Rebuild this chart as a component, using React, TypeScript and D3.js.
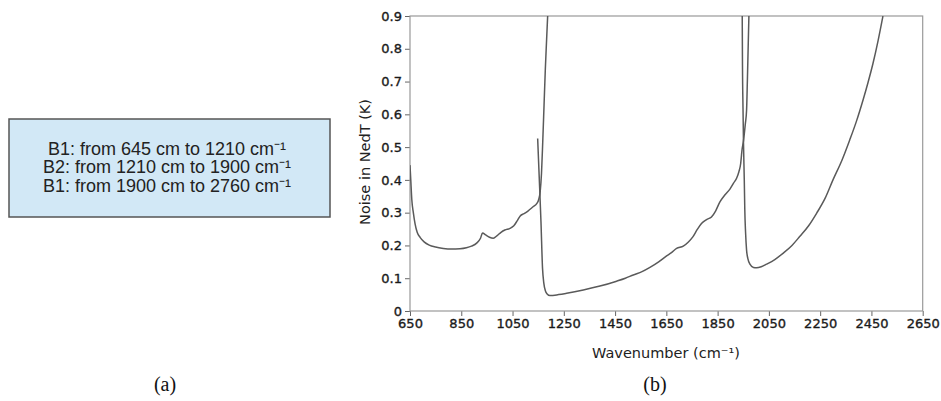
import React, { useEffect, useRef } from "react";
import * as d3 from "d3";

// Noise curves: [wavenumber, NedT noise]
const band1: [number, number][] = [
  [650, 0.445], [653, 0.4], [657, 0.34], [663, 0.3], [670, 0.265], [678, 0.24],
  [690, 0.224], [705, 0.211], [725, 0.201], [750, 0.195], [780, 0.191], [810, 0.189],
  [845, 0.19], [870, 0.193], [890, 0.198], [910, 0.207], [925, 0.222], [933, 0.238],
  [945, 0.232], [960, 0.225], [975, 0.222], [990, 0.23], [1005, 0.24], [1020, 0.247],
  [1040, 0.252], [1055, 0.26], [1068, 0.275], [1080, 0.29], [1095, 0.297], [1110, 0.305],
  [1130, 0.318], [1145, 0.328], [1152, 0.34], [1158, 0.365], [1163, 0.42], [1168, 0.52],
  [1173, 0.63], [1178, 0.74], [1183, 0.83], [1187, 0.9],
];

const band2: [number, number][] = [
  [1148, 0.526], [1154, 0.41], [1161, 0.27], [1167, 0.13], [1172, 0.085], [1178, 0.062],
  [1185, 0.052], [1196, 0.047], [1230, 0.05], [1261, 0.054], [1326, 0.064], [1391, 0.076],
  [1456, 0.091], [1490, 0.1], [1521, 0.11], [1555, 0.12], [1586, 0.133], [1620, 0.15],
  [1651, 0.168], [1670, 0.178], [1690, 0.191], [1716, 0.198], [1735, 0.21], [1754, 0.227],
  [1770, 0.248], [1787, 0.267], [1807, 0.279], [1826, 0.287], [1842, 0.305], [1859, 0.333],
  [1878, 0.354], [1898, 0.372], [1912, 0.39], [1924, 0.405], [1933, 0.425], [1940, 0.45],
  [1945, 0.49], [1951, 0.52], [1958, 0.57], [1963, 0.613], [1966, 0.7], [1968, 0.766],
  [1972, 0.9],
];

const band3: [number, number][] = [
  [1946, 0.9], [1947, 0.75], [1949, 0.62], [1951, 0.51], [1954, 0.4], [1956, 0.31],
  [1959, 0.24], [1963, 0.185], [1968, 0.16], [1976, 0.143], [1990, 0.133], [2002, 0.132],
  [2020, 0.135], [2041, 0.143], [2073, 0.157], [2105, 0.176], [2140, 0.2], [2170, 0.227],
  [2205, 0.26], [2236, 0.298], [2270, 0.345], [2300, 0.4], [2335, 0.46], [2365, 0.521],
  [2392, 0.58], [2417, 0.643], [2437, 0.698], [2456, 0.755], [2476, 0.825], [2495, 0.9],
];

const xTicks = [650, 850, 1050, 1250, 1450, 1650, 1850, 2050, 2250, 2450, 2650];
const yTicks = [0, 0.1, 0.2, 0.3, 0.4, 0.5, 0.6, 0.7, 0.8, 0.9];
const yTickLabels = ["0", "0.1", "0.2", "0.3", "0.4", "0.5", "0.6", "0.7", "0.8", "0.9"];

const boxLines = [
  "B1: from 645 cm to 1210 cm⁻¹",
  "B2: from 1210 cm to 1900 cm⁻¹",
  "B1: from 1900 cm to 2760 cm⁻¹",
];

const App = () => {
  const ref = useRef<SVGSVGElement>(null);

  useEffect(() => {
    const width = 941;
    const height = 401;
    const svg = d3.select(ref.current);
    svg.selectAll("*").remove();
    svg.attr("width", width).attr("height", height);

    svg.append("rect").attr("width", width).attr("height", height).attr("fill", "#fff");

    // (a) text box
    svg
      .append("rect")
      .attr("x", 9)
      .attr("y", 119)
      .attr("width", 321)
      .attr("height", 98)
      .attr("fill", "#d2e8f6")
      .attr("stroke", "#555")
      .attr("stroke-width", 1.5);

    svg
      .append("g")
      .selectAll("text")
      .data(boxLines)
      .join("text")
      .attr("x", 167)
      .attr("y", (d, i) => 155 + i * 18.3)
      .attr("text-anchor", "middle")
      .style("font-family", "'Liberation Sans', Arial, sans-serif")
      .style("font-size", "18px")
      .style("fill", "#222")
      .text((d) => d);

    // (b) chart
    const x = d3.scaleLinear().domain([650, 2650]).range([410, 922.7]);
    const y = d3.scaleLinear().domain([0, 0.9]).range([311, 16]);

    const g = svg.append("g");
    const tickFont = "'DejaVu Sans', sans-serif";

    const xAxis = g
      .append("g")
      .attr("transform", `translate(0, ${y(0)})`)
      .call(d3.axisBottom(x).tickValues(xTicks).tickSize(5).tickPadding(3).tickFormat(d3.format("d")));
    const yAxis = g
      .append("g")
      .attr("transform", `translate(${x(650)}, 0)`)
      .call(
        d3
          .axisLeft(y)
          .tickValues(yTicks)
          .tickSize(5)
          .tickPadding(3)
          .tickFormat((d, i) => yTickLabels[i])
      );

    [xAxis, yAxis].forEach((a) => {
      a.select(".domain").remove();
      a.selectAll(".tick line").attr("stroke", "#666");
      a.selectAll(".tick text")
        .style("font-family", tickFont)
        .style("font-size", "13px")
        .style("fill", "#1a1a1a")
        .style("stroke", "#1a1a1a")
        .style("stroke-width", 0.35);
    });

    // frame
    g.append("rect")
      .attr("x", x(650))
      .attr("y", y(0.9))
      .attr("width", x(2650) - x(650))
      .attr("height", y(0) - y(0.9))
      .attr("fill", "none")
      .attr("stroke", "#999")
      .attr("stroke-width", 1.2);

    svg
      .append("clipPath")
      .attr("id", "plotclip")
      .append("rect")
      .attr("x", x(650))
      .attr("y", y(0.9))
      .attr("width", x(2650) - x(650))
      .attr("height", y(0) - y(0.9));

    const line = d3
      .line<[number, number]>()
      .x((d) => x(d[0]))
      .y((d) => y(d[1]))
      .curve(d3.curveMonotoneX);

    const curves = g.append("g").attr("clip-path", "url(#plotclip)");
    [band1, band2, band3].forEach((band) => {
      curves
        .append("path")
        .datum(band)
        .attr("d", line)
        .attr("fill", "none")
        .attr("stroke", "#5a5a5a")
        .attr("stroke-width", 1.5);
    });

    // axis labels
    svg
      .append("text")
      .attr("x", 666)
      .attr("y", 358)
      .attr("text-anchor", "middle")
      .style("font-family", tickFont)
      .style("font-size", "14.5px")
      .style("fill", "#222")
      .text("Wavenumber (cm⁻¹)");

    svg
      .append("text")
      .attr("transform", "translate(370, 162) rotate(-90)")
      .attr("text-anchor", "middle")
      .style("font-family", tickFont)
      .style("font-size", "14.5px")
      .style("fill", "#222")
      .text("Noise in NedT (K)");

    // panel captions
    [
      { t: "(a)", cx: 165 },
      { t: "(b)", cx: 655 },
    ].forEach((c) => {
      svg
        .append("text")
        .attr("x", c.cx)
        .attr("y", 391)
        .attr("text-anchor", "middle")
        .style("font-family", "'Liberation Serif', 'Times New Roman', serif")
        .style("font-size", "20px")
        .style("fill", "#111")
        .text(c.t);
    });
  }, []);

  return <svg ref={ref} style={{ position: "absolute", left: 0, top: 0 }}></svg>;
};

export default App;
